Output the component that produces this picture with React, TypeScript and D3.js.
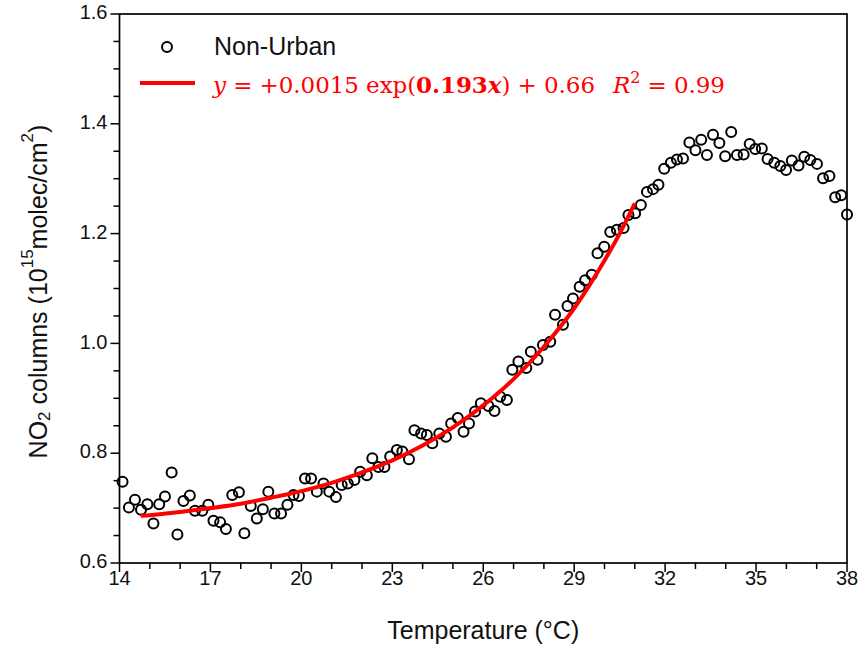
import React from 'react';
import * as d3 from 'd3';

// Observed data: Non-Urban NO2 columns vs temperature
const temps = [
  14.10, 14.31, 14.51, 14.71, 14.92, 15.12, 15.31, 15.50, 15.72, 15.91,
  16.11, 16.32, 16.49, 16.73, 16.93, 17.10, 17.32, 17.51, 17.72, 17.94,
  18.12, 18.33, 18.53, 18.73, 18.91, 19.11, 19.33, 19.54, 19.74, 19.92,
  20.12, 20.32, 20.51, 20.73, 20.92, 21.14, 21.33, 21.53, 21.75, 21.94,
  22.16, 22.34, 22.54, 22.74, 22.93, 23.15, 23.33, 23.55, 23.73, 23.95,
  24.14, 24.32, 24.55, 24.77, 24.94, 25.16, 25.35, 25.53, 25.73, 25.92,
  26.17, 26.37, 26.56, 26.78, 26.96, 27.16, 27.42, 27.57, 27.79, 27.97,
  28.21, 28.37, 28.63, 28.78, 28.96, 29.18, 29.36, 29.58, 29.77, 29.99,
  30.19, 30.41, 30.63, 30.79, 31.01, 31.20, 31.40, 31.60, 31.78, 31.97,
  32.19, 32.39, 32.59, 32.80, 33.00, 33.19, 33.38, 33.58, 33.79, 33.98,
  34.18, 34.37, 34.59, 34.79, 34.97, 35.19, 35.38, 35.60, 35.80, 35.99,
  36.18, 36.40, 36.59, 36.79, 37.01, 37.21, 37.42, 37.61, 37.81, 38.00,
];
const no2 = [
  0.748, 0.701, 0.715, 0.697, 0.707, 0.672, 0.707, 0.721, 0.765, 0.652,
  0.713, 0.723, 0.695, 0.695, 0.706, 0.677, 0.674, 0.662, 0.724, 0.729,
  0.654, 0.704, 0.681, 0.698, 0.730, 0.690, 0.690, 0.706, 0.724, 0.722,
  0.754, 0.754, 0.730, 0.745, 0.730, 0.720, 0.742, 0.745, 0.751, 0.766,
  0.760, 0.791, 0.775, 0.775, 0.794, 0.806, 0.803, 0.789, 0.842, 0.836,
  0.833, 0.818, 0.836, 0.830, 0.854, 0.864, 0.839, 0.854, 0.876, 0.891,
  0.886, 0.877, 0.903, 0.897, 0.952, 0.967, 0.955, 0.985, 0.970, 0.997,
  1.003, 1.052, 1.034, 1.068, 1.082, 1.103, 1.115, 1.125, 1.164, 1.176,
  1.203, 1.207, 1.210, 1.234, 1.237, 1.252, 1.276, 1.281, 1.289, 1.318,
  1.329, 1.335, 1.337, 1.366, 1.352, 1.371, 1.343, 1.380, 1.365, 1.341,
  1.385, 1.343, 1.344, 1.363, 1.354, 1.355, 1.336, 1.329, 1.323, 1.316,
  1.333, 1.324, 1.340, 1.334, 1.327, 1.301, 1.305, 1.266, 1.270, 1.235,
];

// Fitted curve
const fitTemps = [14.7, 15, 16, 17, 18, 19, 20, 21, 22, 23, 24, 25, 26, 27, 28, 29, 30, 30.5, 31];
const fitValues = [0.686, 0.687, 0.693, 0.700, 0.708, 0.719, 0.731, 0.746, 0.765, 0.787, 0.814, 0.847, 0.887, 0.935, 0.994, 1.064, 1.151, 1.200, 1.255];

const xTicks = [14, 17, 20, 23, 26, 29, 32, 35, 38];
const xMinor = [15, 16, 18, 19, 21, 22, 24, 25, 27, 28, 30, 31, 33, 34, 36, 37];
const yTicks = [0.6, 0.8, 1.0, 1.2, 1.4, 1.6];
const yMinor = [0.65, 0.7, 0.75, 0.85, 0.9, 0.95, 1.05, 1.1, 1.15, 1.25, 1.3, 1.35, 1.45, 1.5, 1.55];

const seriesLabel = 'Non-Urban';

export default function App() {
  const W = 863, H = 648;
  const x = d3.scaleLinear().domain([14, 38]).range([119.5, 847]);
  const y = d3.scaleLinear().domain([0.6, 1.6]).range([563, 14]);
  const line = d3.line<number>()
    .x((_, i) => x(fitTemps[i]))
    .y((d) => y(d))
    .curve(d3.curveMonotoneX);
  const sans = 'Liberation Sans, Arial, Helvetica, sans-serif';
  const serif = 'DejaVu Serif, Liberation Serif, serif';
  const majorLen = 9, minorLen = 6;
  const red = '#ff0000';
  return (
    <svg width={W} height={H} style={{ position: 'absolute', left: 0, top: 0, background: '#fff' }}>
      <rect x={0} y={0} width={W} height={H} fill="#fff" />
      {/* frame */}
      <rect x={x(14)} y={y(1.6)} width={x(38) - x(14)} height={y(0.6) - y(1.6)} fill="none" stroke="#000" strokeWidth={1.7} />
      {/* x ticks */}
      {xTicks.map((t) => (
        <g key={'xt' + t}>
          <line x1={x(t)} x2={x(t)} y1={y(0.6)} y2={y(0.6) + majorLen} stroke="#000" strokeWidth={1.5} />
          <text x={x(t)} y={y(0.6) + 17} textAnchor="middle" dominantBaseline="middle" fontFamily={sans} fontSize={20} fill="#111">{t}</text>
        </g>
      ))}
      {xMinor.map((t) => (
        <line key={'xm' + t} x1={x(t)} x2={x(t)} y1={y(0.6)} y2={y(0.6) + minorLen} stroke="#000" strokeWidth={1.5} />
      ))}
      {/* y ticks */}
      {yTicks.map((v) => (
        <g key={'yt' + v}>
          <line x1={x(14) - majorLen} x2={x(14)} y1={y(v)} y2={y(v)} stroke="#000" strokeWidth={1.5} />
          <text x={x(14) - 12} y={y(v)} textAnchor="end" dominantBaseline="middle" fontFamily={sans} fontSize={20} fill="#111">{v.toFixed(1)}</text>
        </g>
      ))}
      {yMinor.map((v) => (
        <line key={'ym' + v} x1={x(14) - minorLen} x2={x(14)} y1={y(v)} y2={y(v)} stroke="#000" strokeWidth={1.5} />
      ))}
      {/* axis titles */}
      <text x={(x(14) + x(38)) / 2} y={632} textAnchor="middle" dominantBaseline="middle" fontFamily={sans} fontSize={25} fill="#111">Temperature (°C)</text>
      <text transform={`translate(40, ${(y(0.6) + y(1.6)) / 2 + 3}) rotate(-90)`} textAnchor="middle" dominantBaseline="middle" fontFamily={sans} fontSize={25} fill="#111">
        NO<tspan fontSize={17} dy={6}>2</tspan><tspan dy={-6}> columns (10</tspan><tspan fontSize={17} dy={-11}>15</tspan><tspan dy={11}>molec/cm</tspan><tspan fontSize={17} dy={-11}>2</tspan><tspan dy={11}>)</tspan>
      </text>
      {/* data */}
      {temps.map((t, i) => (
        <circle key={'p' + i} cx={x(t)} cy={y(no2[i])} r={5} fill="none" stroke="#000" strokeWidth={2} />
      ))}
      {/* fit */}
      <path d={line(fitValues) || ''} fill="none" stroke={red} strokeWidth={4} />
      {/* legend */}
      <circle cx={167} cy={47} r={5} fill="none" stroke="#000" strokeWidth={2} />
      <text x={214} y={48} dominantBaseline="middle" fontFamily={sans} fontSize={25} fill="#111">{seriesLabel}</text>
      <line x1={140} x2={195} y1={83} y2={83} stroke={red} strokeWidth={4} />
      <text x={213} y={93} fontFamily={serif} fontSize={23} fill={red} textLength={512} lengthAdjust="spacing">
        <tspan fontStyle="italic">y</tspan> = +0.0015 exp(<tspan fontWeight="bold">0.193</tspan><tspan fontWeight="bold" fontStyle="italic">x</tspan>) + 0.66<tspan dx={18} fontStyle="italic">R</tspan><tspan fontSize={16} dy={-10}>2</tspan><tspan dy={10}> = 0.99</tspan>
      </text>
    </svg>
  );
}
